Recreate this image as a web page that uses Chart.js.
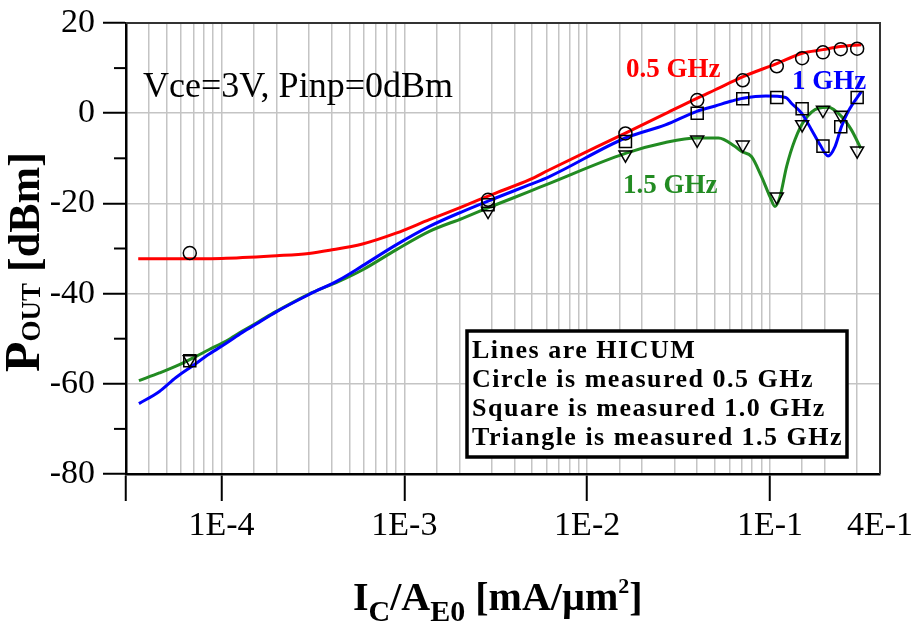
<!DOCTYPE html>
<html>
<head>
<meta charset="utf-8">
<script src="https://cdn.jsdelivr.net/npm/chart.js@4.4.1/dist/chart.umd.min.js"></script>
<style>
body{margin:0;background:#fff;}
canvas{display:block;}
</style>
</head>
<body>
<canvas id="pout" width="912" height="622"></canvas>
<script>
// HICUM simulated lines, Ic/Ae0 in mA/um^2, Pout in dBm
var line05X = [3.5e-5, 5e-5, 1e-4, 2e-4, 3e-4, 3.9e-4, 5.9e-4, 9e-4, 1.37e-3, 2.08e-3, 3.16e-3, 4.81e-3, 6.18e-3, 1.62e-2, 2.68e-2, 3.98e-2, 5.02e-2, 7.13e-2, 0.109, 0.15, 0.195, 0.243, 0.316];
var line05Y = [-32.3, -32.3, -32.2, -31.6, -31.1, -30.4, -29.0, -26.6, -23.6, -20.7, -17.7, -14.8, -12.6, -4.4, -0.1, 3.3, 5.2, 8.1, 11.0, 13.3, 14.1, 14.8, 15.2];

var line10X = [3.53e-5, 4.57e-5, 5.63e-5, 6.95e-5, 8.56e-5, 1.06e-4, 1.3e-4, 1.6e-4, 1.98e-4, 3.01e-4, 4.38e-4, 5.92e-4, 9.01e-4, 1.37e-3, 2.08e-3, 3.16e-3, 4.81e-3, 6.18e-3, 1.62e-2, 2.68e-2, 3.98e-2, 5.02e-2, 6.18e-2, 7.13e-2, 9.5e-2, 0.122, 0.131, 0.149, 0.169, 0.188, 0.208, 0.227, 0.246, 0.268, 0.316];
var line10Y = [-64.4, -61.7, -58.6, -56.0, -53.4, -51.0, -48.6, -46.4, -44.1, -40.2, -37.0, -33.8, -29.2, -25.1, -21.8, -18.8, -15.9, -14.1, -5.5, -2.6, 0.4, 1.6, 2.7, 3.3, 3.8, 3.5, 2.2, 0.0, -3.7, -7.0, -9.5, -7.4, -3.0, 0.4, 4.8];

var line15X = [3.53e-5, 4.57e-5, 5.63e-5, 6.95e-5, 8.56e-5, 1.06e-4, 1.3e-4, 1.6e-4, 1.98e-4, 3.01e-4, 4.38e-4, 5.92e-4, 9.01e-4, 1.37e-3, 2.08e-3, 3.16e-3, 4.81e-3, 6.18e-3, 1.62e-2, 2.68e-2, 3.98e-2, 5.23e-2, 6.45e-2, 7.0e-2, 7.92e-2, 8.98e-2, 0.1, 0.1066, 0.1135, 0.1234, 0.137, 0.155, 0.184, 0.208, 0.246, 0.279, 0.314];
var line15Y = [-59.3, -57.6, -56.1, -54.3, -52.4, -50.5, -48.3, -46.2, -44.0, -40.1, -37.3, -34.7, -30.3, -26.2, -23.3, -20.3, -17.4, -15.6, -8.9, -6.5, -5.5, -5.5, -7.4, -8.5, -9.6, -14.0, -18.5, -20.7, -18.5, -11.8, -5.9, -1.5, 1.1, 1.3, -0.7, -3.7, -7.8];

// measured points (same bias points for all three frequencies)
var measX  = [6.7e-5, 2.87e-3, 1.62e-2, 4.0e-2, 7.1e-2, 0.109, 0.150, 0.195, 0.244, 0.300];
var meas05 = [-31.0, -19.2, -4.5, 2.9, 7.3, 10.4, 12.2, 13.5, 14.2, 14.3];
var meas10 = [-54.9, -20.3, -6.3, 0.0, 3.2, 3.5, 1.0, -7.3, -3.0, 3.5];
var meas15 = [-54.6, -21.7, -9.2, -5.9, -7.0, -18.5, -2.5, 0.7, -0.4, -8.3];

// axes
var xMin = 3e-5, xMax = 0.4;
var xTickValues = [1e-4, 1e-3, 1e-2, 1e-1, 0.4];
var xTickLabels = ['1E-4', '1E-3', '1E-2', '1E-1', '4E-1'];
var yMin = -80, yMax = 20, yMajor = 20;
var yMinorTicks = [10, -10, -30, -50, -70];

var SERIF = "'Liberation Serif', 'Times New Roman', serif";

function pts(xs, ys){
  var out = [];
  for (var i = 0; i < xs.length; i++){
    out.push({x: xs[i], y: ys[i]});
  }
  return out;
}

function isDecade(v){
  var lg = Math.log10(v);
  return Math.abs(lg - Math.round(lg)) < 1e-6;
}

function xLabel(v){
  for (var i = 0; i < xTickValues.length; i++){
    if (Math.abs(v - xTickValues[i]) / xTickValues[i] < 1e-6) return xTickLabels[i];
  }
  return '';
}

function lineSet(label, data, color){
  return {
    label: label,
    data: data,
    showLine: true,
    borderColor: color,
    borderWidth: 3,
    pointRadius: 0,
    cubicInterpolationMode: 'monotone',
    order: 2
  };
}

function markSet(label, data, style, radius, rot){
  return {
    label: label,
    data: data,
    showLine: false,
    pointStyle: style,
    pointRadius: radius,
    pointRotation: rot,
    pointBorderColor: '#000',
    pointBackgroundColor: 'rgba(0,0,0,0)',
    pointBorderWidth: 1.5,
    order: 1
  };
}

// draws text pieces one after another (for sub/superscripts)
function drawRuns(c, runs, x, y){
  var px = x;
  for (var i = 0; i < runs.length; i++){
    c.font = runs[i].font;
    c.fillText(runs[i].t, px, y + (runs[i].dy || 0));
    px += c.measureText(runs[i].t).width;
  }
}

var overlay = {
  id: 'overlay',
  afterDraw: function(chart){
    var c = chart.ctx;
    var a = chart.chartArea;
    var ys = chart.scales.y;
    c.save();

    // top and right frame
    c.strokeStyle = '#333';
    c.lineWidth = 2;
    c.beginPath();
    c.moveTo(a.left, a.top);
    c.lineTo(a.right, a.top);
    c.lineTo(a.right, a.bottom);
    c.stroke();

    // short minor ticks on the y axis
    c.strokeStyle = '#000';
    c.lineWidth = 2;
    for (var i = 0; i < yMinorTicks.length; i++){
      var py = ys.getPixelForValue(yMinorTicks[i]);
      c.beginPath();
      c.moveTo(a.left - 12, py);
      c.lineTo(a.left, py);
      c.stroke();
    }

    c.textAlign = 'left';
    c.textBaseline = 'alphabetic';

    // conditions
    c.fillStyle = '#000';
    c.font = '36px ' + SERIF;
    c.fillText('Vce=3V, Pinp=0dBm', 143, 97);

    // curve labels
    c.font = 'bold 27px ' + SERIF;
    c.fillStyle = '#ff0000';
    c.fillText('0.5 GHz', 626, 77);
    c.fillStyle = '#0000ff';
    c.fillText('1 GHz', 792, 89);
    c.fillStyle = '#228b22';
    c.fillText('1.5 GHz', 623, 193);

    // note box
    c.fillStyle = '#fff';
    c.fillRect(467, 331, 380, 126);
    c.strokeStyle = '#000';
    c.lineWidth = 3.5;
    c.strokeRect(467, 331, 380, 126);
    c.fillStyle = '#000';
    c.font = 'bold 26px ' + SERIF;
    c.letterSpacing = '1.5px';
    c.fillText('Lines are HICUM', 472, 358);
    c.fillText('Circle is measured 0.5 GHz', 472, 387);
    c.fillText('Square is measured 1.0 GHz', 472, 416);
    c.fillText('Triangle is measured 1.5 GHz', 472, 445);
    c.letterSpacing = '0px';

    // x axis title
    drawRuns(c, [
      {t: 'I', font: 'bold 40px ' + SERIF},
      {t: 'C', font: 'bold 30px ' + SERIF, dy: 11},
      {t: '/A', font: 'bold 40px ' + SERIF},
      {t: 'E0', font: 'bold 30px ' + SERIF, dy: 11},
      {t: ' [mA/\u00b5m', font: 'bold 40px ' + SERIF},
      {t: '2', font: 'bold 22px ' + SERIF, dy: -17},
      {t: ']', font: 'bold 40px ' + SERIF}
    ], 353, 610);

    // y axis title
    c.translate(39, 372);
    c.rotate(-Math.PI / 2);
    drawRuns(c, [
      {t: 'P', font: 'bold 50px ' + SERIF},
      {t: 'OUT', font: 'bold 27px ' + SERIF, dy: 1},
      {t: ' [dBm]', font: 'bold 44px ' + SERIF}
    ], 0, 0);

    c.restore();
  }
};

var ctx = document.getElementById('pout').getContext('2d');
var poutChart = new Chart(ctx, {
  type: 'scatter',
  data: {
    datasets: [
      lineSet('0.5 GHz HICUM', pts(line05X, line05Y), '#ff0000'),
      lineSet('1 GHz HICUM', pts(line10X, line10Y), '#0000ff'),
      lineSet('1.5 GHz HICUM', pts(line15X, line15Y), '#228b22'),
      markSet('measured 0.5 GHz', pts(measX, meas05), 'circle', 6.5, 0),
      markSet('measured 1.0 GHz', pts(measX, meas10), 'rect', 8.5, 0),
      markSet('measured 1.5 GHz', pts(measX, meas15), 'triangle', 7.5, 180)
    ]
  },
  options: {
    responsive: false,
    animation: false,
    layout: {padding: {top: 23, right: 0, bottom: 0, left: 0}},
    plugins: {
      legend: {display: false},
      tooltip: {enabled: false}
    },
    scales: {
      x: {
        type: 'logarithmic',
        min: xMin,
        max: xMax,
        afterFit: function(scale){
          scale.height = 148;
          scale.paddingLeft = 0;
          scale.paddingRight = 32;
        },
        border: {color: '#000', width: 2.5},
        grid: {
          color: '#c4c4c4',
          lineWidth: 1.5,
          tickLength: 27,
          tickWidth: 2,
          tickColor: function(c){
            var v = c.tick ? c.tick.value : 0;
            return (isDecade(v) || Math.abs(v - xMin) < 1e-12) ? '#000' : 'rgba(0,0,0,0)';
          }
        },
        ticks: {
          autoSkip: false,
          maxRotation: 0,
          minRotation: 0,
          padding: 5,
          color: '#000',
          font: {family: SERIF, size: 34},
          callback: function(value){ return xLabel(value); }
        }
      },
      y: {
        type: 'linear',
        min: yMin,
        max: yMax,
        afterFit: function(scale){
          scale.width = 126;
          scale.paddingTop = 0;
          scale.paddingBottom = 0;
        },
        border: {color: '#000', width: 2.5},
        grid: {
          lineWidth: 1.5,
          tickLength: 23,
          tickWidth: 2,
          color: function(c){
            return (c.tick && c.tick.value % yMajor === 0) ? '#c4c4c4' : 'rgba(0,0,0,0)';
          },
          tickColor: function(c){
            return (c.tick && c.tick.value % yMajor === 0) ? '#000' : 'rgba(0,0,0,0)';
          }
        },
        ticks: {
          stepSize: 10,
          padding: 8,
          color: '#000',
          font: {family: SERIF, size: 34},
          callback: function(value){ return value % yMajor === 0 ? String(value) : ''; }
        }
      }
    }
  },
  plugins: [overlay]
});
</script>
</body>
</html>
